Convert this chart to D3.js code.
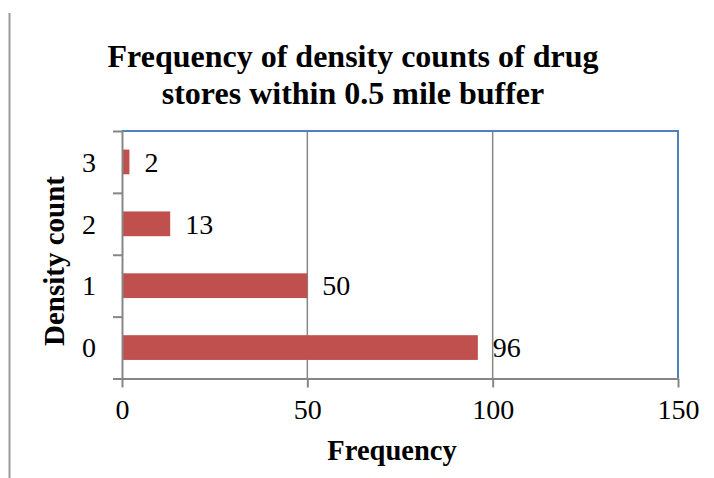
<!DOCTYPE html>
<html>
<head>
<meta charset="utf-8">
<script src="https://cdn.jsdelivr.net/npm/d3@7/dist/d3.min.js"></script>
<style>
  html, body { margin: 0; padding: 0; background: #fff; }
  svg { display: block; font-family: "Liberation Serif", "Times New Roman", serif; }
</style>
</head>
<body>
<svg id="chart" width="714" height="478"></svg>
<script>
// Density count categories (top to bottom) and how many areas fall in each
const categories = ["3", "2", "1", "0"];
const frequencies = [2, 13, 50, 96];
const xTickValues = [0, 50, 100, 150];
const titleLines = ["Frequency of density counts of drug", "stores within 0.5 mile buffer"];
const xAxisTitle = "Frequency";
const yAxisTitle = "Density count";

const svg = d3.select("#chart");
const plot = { left: 122, right: 678, top: 131, bottom: 378.5 };
const axisGray = "#868686";
const frameBlue = "#4F81BD";
const barRed = "#C0504D";

const x = d3.scaleLinear().domain([0, 150]).range([plot.left, plot.right]);
const y = d3.scaleBand().domain(categories)
  .range([plot.top, plot.bottom]).paddingInner(0.6).paddingOuter(0.3);
// category boundaries, used for the tick marks on the vertical axis
const yEdge = d3.scaleLinear().domain([0, categories.length]).range([plot.bottom, plot.top]);

// thin rule on the left edge of the page
svg.append("line")
  .attr("x1", 9.5).attr("x2", 9.5).attr("y1", 13).attr("y2", 478)
  .attr("stroke", "#9a9a9a").attr("stroke-width", 2);

// title
svg.append("text")
  .attr("text-anchor", "middle")
  .attr("font-weight", "bold")
  .attr("font-size", 32)
  .selectAll("tspan").data(titleLines).join("tspan")
  .attr("x", 353)
  .attr("y", (d, i) => 67 + i * 37)
  .text(d => d);

// vertical gridlines
svg.append("g").selectAll("line")
  .data(xTickValues.filter(v => v > 0 && v < 150)).join("line")
  .attr("x1", d => x(d)).attr("x2", d => x(d))
  .attr("y1", plot.top).attr("y2", plot.bottom)
  .attr("stroke", axisGray).attr("stroke-width", 1.5);

// plot frame: top and right edges
svg.append("path")
  .attr("d", `M${plot.left},${plot.top}H${plot.right}V${plot.bottom}`)
  .attr("fill", "none").attr("stroke", frameBlue).attr("stroke-width", 2);

// bars
svg.append("g").selectAll("rect")
  .data(categories.map((c, i) => ({ c, v: frequencies[i] }))).join("rect")
  .attr("x", x(0))
  .attr("y", d => y(d.c))
  .attr("width", d => x(d.v) - x(0))
  .attr("height", y.bandwidth())
  .attr("fill", barRed);

// value labels
svg.append("g").selectAll("text")
  .data(categories.map((c, i) => ({ c, v: frequencies[i] }))).join("text")
  .attr("x", d => x(d.v) + 15)
  .attr("y", d => y(d.c) + y.bandwidth() / 2)
  .attr("dy", "0.35em")
  .attr("font-size", 28)
  .attr("fill", "#000")
  .text(d => d.v);

// bottom axis
const xAxis = svg.append("g")
  .attr("transform", `translate(0,${plot.bottom})`)
  .call(d3.axisBottom(x).tickValues(xTickValues).tickSize(9).tickSizeOuter(0).tickPadding(12));
xAxis.select(".domain").attr("stroke", axisGray).attr("stroke-width", 2);
xAxis.selectAll(".tick line").attr("stroke", axisGray).attr("stroke-width", 2);
xAxis.selectAll(".tick text")
  .attr("font-family", "Liberation Serif, Times New Roman, serif")
  .attr("font-size", 28).attr("fill", "#000");

// left axis: ticks at category boundaries
const yAxis = svg.append("g")
  .attr("transform", `translate(${plot.left},0)`)
  .call(d3.axisLeft(yEdge).tickValues(d3.range(categories.length + 1))
    .tickFormat("").tickSize(9).tickSizeOuter(0));
yAxis.select(".domain").attr("stroke", axisGray).attr("stroke-width", 2);
yAxis.selectAll(".tick line").attr("stroke", axisGray).attr("stroke-width", 2);

// category labels
svg.append("g").selectAll("text")
  .data(categories).join("text")
  .attr("x", 96)
  .attr("y", d => y(d) + y.bandwidth() / 2)
  .attr("dy", "0.35em")
  .attr("text-anchor", "end")
  .attr("font-size", 28)
  .text(d => d);

// axis titles
svg.append("text")
  .attr("x", 392).attr("y", 460)
  .attr("text-anchor", "middle")
  .attr("font-weight", "bold")
  .attr("font-size", 28.5)
  .text(xAxisTitle);

svg.append("text")
  .attr("transform", "translate(64,261) rotate(-90)")
  .attr("text-anchor", "middle")
  .attr("font-weight", "bold")
  .attr("font-size", 29)
  .text(yAxisTitle);
</script>
</body>
</html>
